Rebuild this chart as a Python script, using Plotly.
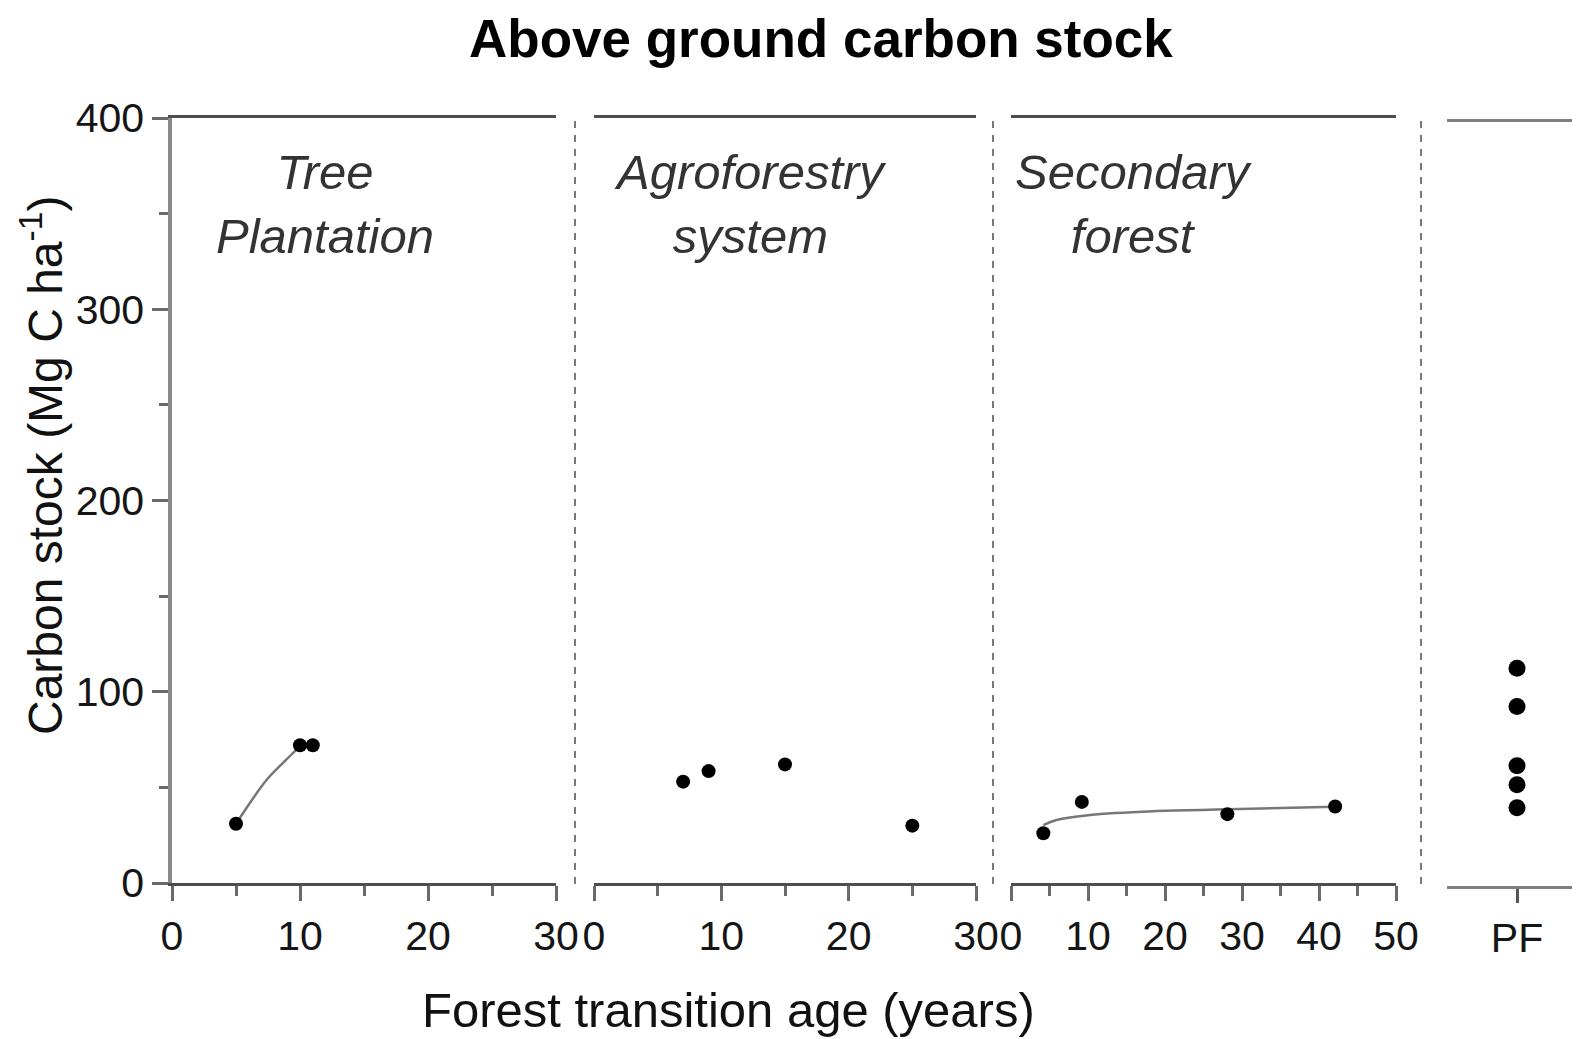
import plotly.graph_objects as go

W, H = 1580, 1039
OFF = 8  # page body margin

# ---------------- data ----------------
tp_age = [5, 10, 11]
tp_carbon = [31, 72, 72]
tp_fit_age = [5, 6.1, 7.4, 8.7, 9.7, 10]
tp_fit_carbon = [31, 42, 54, 63, 69.5, 71]

af_age = [7, 9, 15, 25]
af_carbon = [53, 58.5, 62, 30]

sf_age = [4.2, 9.2, 28.1, 42.1]
sf_carbon = [26, 42.4, 36, 40]
sf_fit_age = [4.2, 5.9, 10.3, 18.9, 28.1, 42.1]
sf_fit_carbon = [30.3, 32.9, 35.6, 37.6, 38.5, 39.9]

pf_cat = ["PF", "PF", "PF", "PF", "PF"]
pf_carbon = [114, 94, 63, 53, 41]

panel_labels = ["Tree<br>Plantation", "Agroforestry<br>system", "Secondary<br>forest"]
y_ticks = [0, 100, 200, 300, 400]
y_minor = [50, 150, 250, 350]

# ---------------- helpers ----------------
def px(x):
    return (x - OFF) / W

def py(y):
    return 1 - (y - OFF) / H

FONT = "Liberation Sans, Arial, sans-serif"
AX_LINE = "#4d4d4d"
TICK_C = "#6a6a6a"
TICK_FONT = dict(family=FONT, size=41, color="#151515")

fig = go.Figure()

mk = dict(color="black", size=14)
fit_line = dict(color="#777777", width=2.5)

fig.add_trace(go.Scatter(x=tp_fit_age, y=tp_fit_carbon, mode="lines", line=fit_line,
                         line_shape="spline", xaxis="x", yaxis="y"))
fig.add_trace(go.Scatter(x=tp_age, y=tp_carbon, mode="markers", marker=mk, xaxis="x", yaxis="y"))
fig.add_trace(go.Scatter(x=af_age, y=af_carbon, mode="markers", marker=mk, xaxis="x2", yaxis="y"))
fig.add_trace(go.Scatter(x=sf_fit_age, y=sf_fit_carbon, mode="lines", line=fit_line,
                         line_shape="spline", xaxis="x3", yaxis="y"))
fig.add_trace(go.Scatter(x=sf_age, y=sf_carbon, mode="markers", marker=mk, xaxis="x3", yaxis="y"))
fig.add_trace(go.Scatter(x=pf_cat, y=pf_carbon, mode="markers",
                         marker=dict(color="black", size=17), xaxis="x4", yaxis="y2"))

def xaxis_cfg(dom, rng, major, minor, linecolor=AX_LINE, anchor="y"):
    return dict(
        domain=[px(dom[0]), px(dom[1])], range=rng, anchor=anchor, automargin=False,
        showline=True, linecolor=linecolor, linewidth=3, mirror=True,
        showgrid=False, zeroline=False,
        ticks="outside", tickvals=major, ticktext=[str(v) for v in major],
        ticklen=15, tickwidth=3, tickcolor=TICK_C, tickfont=TICK_FONT,
        minor=dict(tickvals=minor, ticks="outside", ticklen=10, tickwidth=3,
                   tickcolor=TICK_C, showgrid=False),
    )

# panel 4 category axis: PF centred at x=1517, axis from 1447 to the right edge
pf_lo, pf_hi, pf_c = px(1447), 1.0, px(1517)
pf_span = (pf_hi - pf_lo)
pf_left = (pf_c - pf_lo) / pf_span

layout = dict(
    width=W, height=H, margin=dict(l=0, r=0, t=0, b=0, autoexpand=False),
    paper_bgcolor="white", plot_bgcolor="white", showlegend=False,
    xaxis=xaxis_cfg((172, 556), [0, 30], [0, 10, 20, 30], [5, 15, 25]),
    xaxis2=xaxis_cfg((594, 976), [0, 30], [0, 10, 20, 30], [5, 15, 25]),
    xaxis3=xaxis_cfg((1011, 1396), [0, 50], [0, 10, 20, 30, 40, 50], [5, 15, 25, 35, 45]),
    xaxis4=dict(
        domain=[pf_lo, pf_hi], type="category",
        range=[-0.5, -0.5 + 0.5 / pf_left], anchor="y2",
        automargin=False,
        showline=True, linecolor="#808080", linewidth=3, mirror=True,
        showgrid=False, zeroline=False, ticks="outside", ticklen=14, tickwidth=3,
        tickcolor="#555555", tickfont=TICK_FONT,
    ),
    yaxis=dict(
        domain=[py(883), py(118)], range=[0, 400], anchor="x", automargin=False,
        showline=True, linecolor="#8a8a8a", linewidth=3.5,
        showgrid=False, zeroline=False,
        ticks="outside", tickvals=y_ticks, ticklen=16, tickwidth=3, tickcolor=TICK_C,
        tickfont=TICK_FONT,
        minor=dict(tickvals=y_minor, ticks="outside", ticklen=9, tickwidth=3,
                   tickcolor=TICK_C, showgrid=False),
    ),
    yaxis2=dict(
        domain=[py(886), py(122)], range=[0, 400], anchor="x4", automargin=False,
        showline=False, showgrid=False, zeroline=False, showticklabels=False, ticks="",
    ),
)
fig.update_layout(**layout)

# dotted separators
for xs in (575, 993, 1421):
    fig.add_shape(type="line", xref="paper", yref="paper",
                  x0=px(xs), x1=px(xs), y0=py(884), y1=py(118),
                  line=dict(color="#777777", width=2, dash="7px,7px"))

# titles
fig.add_annotation(text="<b>Above ground carbon stock</b>", xref="paper", yref="paper",
                   x=px(821), y=1.0, xanchor="center", yanchor="top", showarrow=False,
                   borderpad=0,
                   font=dict(family=FONT, size=53, color="black"))
fig.add_annotation(text="Carbon stock (Mg C ha<sup>-1</sup>)", xref="paper", yref="paper",
                   x=px(42), y=py(466), xanchor="center", yanchor="middle", showarrow=False,
                   textangle=-90, font=dict(family=FONT, size=48, color="#111111"))
fig.add_annotation(text="Forest transition age (years)", xref="paper", yref="paper",
                   x=px(728), y=py(1010), xanchor="center", yanchor="middle", showarrow=False,
                   font=dict(family=FONT, size=49, color="#111111"))

# panel labels
for lbl, cx in zip(panel_labels, (325, 750, 1133)):
    fig.add_annotation(text="<i>" + lbl + "</i>", xref="paper", yref="paper",
                       x=px(cx), y=py(204), xanchor="center", yanchor="middle",
                       showarrow=False, align="center",
                       font=dict(family=FONT, size=49, color="#333333"))

fig.write_html("out.html")
